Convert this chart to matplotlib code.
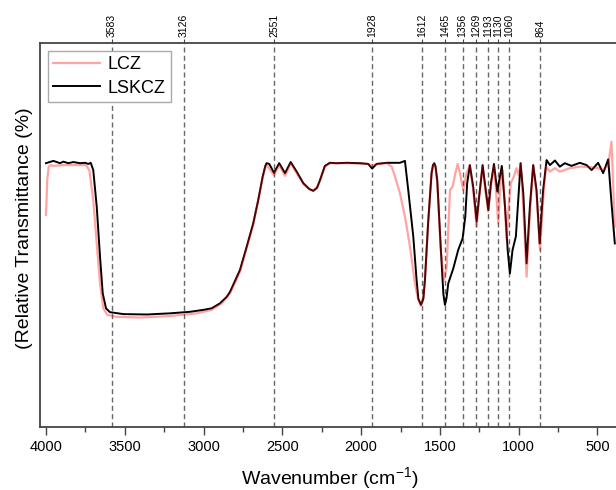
import matplotlib
matplotlib.use("Agg")
import matplotlib.pyplot as plt
from matplotlib.ticker import MultipleLocator

plt.rcParams['font.family'] = ['Liberation Sans', 'DejaVu Sans']
plt.rcParams['mathtext.default'] = 'regular'

# ---- data ----
lskcz_wn = [4000, 3953, 3911, 3890, 3858, 3827, 3784, 3752, 3731, 3716, 3700, 3678, 3657, 3640,
            3619, 3594, 3509, 3361, 3213, 3086, 3002, 2949, 2896, 2853, 2832, 2769, 2726, 2685,
            2653, 2625, 2608, 2600, 2583, 2553, 2520, 2483, 2447, 2409, 2367, 2330, 2304, 2280,
            2261, 2230, 2198, 2155, 2092, 2007, 1955, 1930, 1902, 1838, 1754, 1722, 1701, 1669,
            1648, 1637, 1620, 1605, 1595, 1575, 1553, 1544, 1536, 1528, 1517, 1495, 1478, 1468,
            1458, 1447, 1415, 1384, 1356, 1339, 1327, 1310, 1289, 1267, 1251, 1229, 1212, 1193,
            1176, 1157, 1136, 1107, 1087, 1070, 1056, 1039, 1018, 1003, 988, 971, 950, 929, 908,
            887, 867, 845, 823, 802, 770, 739, 707, 665, 612, 569, 537, 496, 464, 432, 411, 390]
lskcz_t = [68.7, 69.3, 68.7, 69.1, 68.7, 69.0, 68.7, 68.8, 68.5, 68.8, 66.9, 57.4, 44.3, 34.8,
           30.9, 29.9, 29.4, 29.3, 29.6, 30.0, 30.5, 30.9, 32.2, 33.9, 35.2, 40.9, 47.0, 53.0,
           59.1, 65.2, 68.0, 68.7, 68.5, 66.2, 68.7, 66.1, 69.0, 66.5, 63.5, 62.0, 61.5, 62.3,
           64.3, 68.0, 68.8, 68.7, 68.8, 68.7, 68.5, 67.3, 68.5, 68.8, 68.8, 69.3, 61.7, 49.6,
           38.3, 33.4, 31.8, 33.4, 38.3, 53.0, 66.1, 68.2, 68.7, 67.9, 64.3, 47.0, 34.6, 31.8,
           33.6, 37.4, 41.3, 46.1, 49.1, 54.8, 63.5, 68.2, 62.6, 53.5, 60.0, 68.2, 62.6, 56.5,
           63.5, 68.5, 61.3, 68.0, 57.4, 46.1, 40.0, 46.1, 49.6, 59.1, 68.7, 60.9, 42.6, 57.4, 68.2,
           61.7, 47.8, 61.7, 69.5, 68.2, 69.4, 67.8, 68.7, 68.0, 68.8, 68.2, 66.9, 68.8, 66.1,
           69.7, 58.3, 47.8]

lcz_wn = [4000, 3992, 3983, 3970, 3953, 3890, 3784, 3746, 3725, 3700, 3678, 3657, 3636, 3611,
          3551, 3403, 3213, 3044, 2949, 2885, 2832, 2769, 2685, 2625, 2608, 2600, 2553, 2520,
          2483, 2447, 2409, 2367, 2330, 2304, 2280, 2261, 2230, 2198, 2092, 1955, 1930, 1902,
          1838, 1806, 1785, 1754, 1722, 1690, 1659, 1640, 1622, 1607, 1595, 1575, 1553, 1544,
          1536, 1528, 1517, 1495, 1474, 1457, 1436, 1419, 1402, 1387, 1373, 1352, 1331, 1310,
          1289, 1267, 1251, 1229, 1212, 1193, 1176, 1157, 1144, 1130, 1115, 1102, 1087, 1077,
          1064, 1050, 1031, 1014, 1000, 988, 971, 950, 929, 908, 887, 865, 845, 827, 802, 770,
          739, 675, 612, 548, 496, 464, 432, 411, 390]
lcz_t = [55.2, 64.3, 67.8, 68.2, 68.0, 68.2, 68.2, 68.2, 66.9, 59.1, 47.8, 37.4, 30.9, 29.2,
         28.7, 28.5, 28.9, 29.6, 30.5, 32.2, 34.8, 40.4, 52.6, 64.8, 67.6, 68.2, 65.6, 68.2,
         65.4, 68.7, 66.1, 63.3, 62.0, 61.5, 62.2, 64.1, 67.8, 68.7, 68.7, 68.5, 68.0, 68.5,
         68.7, 67.8, 65.2, 60.9, 54.8, 47.0, 37.4, 33.6, 31.6, 33.4, 38.3, 53.0, 66.1, 68.0,
         68.5, 67.7, 63.5, 46.1, 38.3, 41.7, 61.7, 62.6, 66.1, 68.5, 66.1, 61.7, 66.1, 68.2,
         61.7, 52.2, 59.6, 68.0, 61.7, 56.1, 63.0, 68.0, 61.7, 53.0, 64.3, 66.9, 57.4, 48.7,
         57.4, 63.5, 65.2, 67.4, 65.6, 68.7, 57.4, 39.1, 55.6, 68.2, 60.9, 46.1, 59.1, 67.8,
         66.5, 67.4, 66.5, 67.4, 67.8, 67.7, 67.4, 66.9, 68.2, 74.3, 52.2]

peak_positions = [3583, 3126, 2551, 1928, 1612, 1465, 1356, 1269, 1193, 1130, 1060, 864]
peak_labels = [str(p) for p in peak_positions]
x_ticks = [4000, 3500, 3000, 2500, 2000, 1500, 1000, 500]
series_labels = ['LCZ', 'LSKCZ']

# ---- figure ----
W, H = 616, 490
fig = plt.figure(figsize=(W / 100, H / 100), dpi=100)
ax_left, ax_right, ax_top, ax_bot = 40, 629, 43, 427
ax = fig.add_axes([ax_left / W, 1 - ax_bot / H, (ax_right - ax_left) / W, (ax_bot - ax_top) / H])

ax.plot(lskcz_wn, lskcz_t, color='black', lw=1.4, label=series_labels[1], zorder=3,
        solid_joinstyle='round')
ax.plot(lcz_wn, lcz_t, color='red', alpha=0.36, lw=1.6, label=series_labels[0], zorder=4,
        solid_joinstyle='round')

for p in peak_positions:
    ax.axvline(p, color='#666666', lw=1.0, ls=(0, (3.6, 2.4)), zorder=2)

ax.set_xlim(4038, 300)
ax.set_ylim(0, 100)
ax.set_xticks(x_ticks)
ax.xaxis.set_minor_locator(MultipleLocator(250))
ax.set_yticks([])
ax.tick_params(axis='x', which='major', direction='out', length=6, width=1, pad=3,
               labelsize=10.5, color='#444444')
ax.tick_params(axis='x', which='minor', direction='out', length=3.5, width=1, color='#444444')
for s in ax.spines.values():
    s.set_color('#444444')
    s.set_linewidth(1.3)

sec = ax.secondary_xaxis('top')
sec.set_xticks(peak_positions)
sec.set_xticklabels(peak_labels, rotation=90, fontsize=7.5)
sec.tick_params(axis='x', direction='out', length=3, width=0.8, pad=1, color='#444444')
sec.spines['top'].set_visible(False)

ax.set_xlabel('Wavenumber (cm$^{-1}$)', fontsize=14)
ax.xaxis.set_label_coords((330 - ax_left) / (ax_right - ax_left), -(478 - ax_bot) / (ax_bot - ax_top))
ax.xaxis.label.set_va('center')
ax.set_ylabel('(Relative Transmittance (%)', fontsize=14)
ax.yaxis.set_label_coords(-(ax_left - 33) / (ax_right - ax_left), (ax_bot - 228) / (ax_bot - ax_top))

handles, labels = ax.get_legend_handles_labels()
order = [1, 0]
leg = ax.legend([handles[i] for i in order], [labels[i] for i in order],
                loc='upper left', bbox_to_anchor=((48 - ax_left) / (ax_right - ax_left), (ax_bot - 51) / (ax_bot - ax_top)),
                borderaxespad=0, fontsize=13, frameon=True, fancybox=False, edgecolor='#aaaaaa',
                framealpha=1, handlelength=2.6, handletextpad=0.4, borderpad=0.3, labelspacing=0.35)
leg.get_frame().set_linewidth(1.0)

fig.savefig('out.png', dpi=100)
